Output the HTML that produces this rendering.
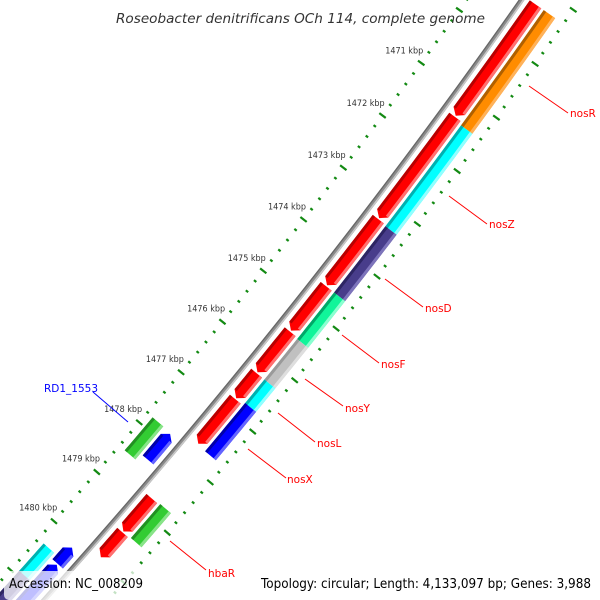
<!DOCTYPE html>
<html><head><meta charset="utf-8"><style>
html,body{margin:0;padding:0;background:#fff;width:600px;height:600px;overflow:hidden;}
svg{display:block;overflow:hidden;font-family:"DejaVu Sans","Liberation Sans",sans-serif;}
</style></head><body>
<svg id="map" width="600" height="600" viewBox="0 0 600 600">
<rect width="600" height="600" fill="#fff"/>
<g id="ticks"></g>
<g id="backbone"></g>
<g id="features"></g>
<g id="ticklabels"></g>
<g font-size="10.5" fill="#ff0000" stroke-width="1">
<line x1="529" y1="86" x2="568" y2="113" stroke="#ff0000"/>
<text x="570" y="117">nosR</text>
<line x1="449" y1="196" x2="487" y2="224" stroke="#ff0000"/>
<text x="489" y="228">nosZ</text>
<line x1="385" y1="279" x2="423" y2="307" stroke="#ff0000"/>
<text x="425" y="312">nosD</text>
<line x1="342" y1="335" x2="379" y2="363" stroke="#ff0000"/>
<text x="381" y="368">nosF</text>
<line x1="305" y1="379" x2="343" y2="406" stroke="#ff0000"/>
<text x="345" y="412">nosY</text>
<line x1="278" y1="413" x2="315" y2="442" stroke="#ff0000"/>
<text x="317" y="447">nosL</text>
<line x1="248" y1="449" x2="286" y2="478" stroke="#ff0000"/>
<text x="287" y="483">nosX</text>
<line x1="170" y1="541" x2="206" y2="570" stroke="#ff0000"/>
<text x="208" y="577">hbaR</text>
<line x1="93" y1="392" x2="128" y2="422" stroke="#0000ff"/>
<text x="44" y="392" fill="#0000ff">RD1_1553</text>
</g>
<text x="116" y="23" font-size="13.5" font-style="italic" fill="#333" textLength="369" lengthAdjust="spacingAndGlyphs">Roseobacter denitrificans OCh 114, complete genome</text>
<rect x="4" y="571" width="144" height="29" rx="5" fill="#fff" fill-opacity="0.75"/>
<text x="9" y="588" font-size="13" fill="#000" textLength="134" lengthAdjust="spacingAndGlyphs">Accession: NC_008209</text>
<rect x="256" y="571" width="342" height="29" rx="5" fill="#fff" fill-opacity="0.75"/>
<text x="261" y="588" font-size="13" fill="#000" textLength="330" lengthAdjust="spacingAndGlyphs">Topology: circular; Length: 4,133,097 bp; Genes: 3,988</text>
</svg>
<script>
// data arrays (kbp positions)
const tickLabels = [1471,1472,1473,1474,1475,1476,1477,1478,1479,1480];
const ring1Starts = [1469.26,1471.36,1473.30,1474.59,1475.47,1476.28,1476.79,1478.76,1479.44];
const ring1Ends   = [1471.34,1473.28,1474.57,1475.45,1476.26,1476.77,1477.67,1479.42,1479.94];
const ring2Starts = [1469.26,1471.41,1473.32,1474.59,1475.49,1476.28,1476.74,1478.74];
const ring2Ends   = [1471.41,1473.32,1474.59,1475.49,1476.28,1476.74,1477.69,1479.42];
const ring2Colors = ['orange','cyan','purple','spring','gray','cyan','blue','green'];
const ringM1Starts = [1477.83,1480.12,1480.47];
const ringM1Ends   = [1478.35,1480.45,1481.6];
const ringM2Starts = [1477.81,1480.36,1480.92];
const ringM2Ends   = [1478.47,1480.92,1482];
const ringM2Colors = ['green','cyan','purple'];

const NS='http://www.w3.org/2000/svg';
const CX=-4695, CY=-3661, R0=6373, TH0=36.05, DEG_PER_KBP=0.591;
function P(k,r){const t=(TH0+DEG_PER_KBP*(k-1471))*Math.PI/180;const R=R0+r;return [CX+R*Math.cos(t),CY+R*Math.sin(t)];}
const PAL={red:['#ff0000','#b80000','#ff7070'],orange:['#ff8c00','#b06000','#ffb25a'],cyan:['#00ffff','#00b0b0','#90ffff'],
purple:['#483d8b','#2d2563','#7d74bb'],spring:['#10f59a','#00a868','#8affd0'],gray:['#c0c0c0','#9a9a9a','#dedede'],
blue:['#0000ff','#0000a8','#6464ff'],green:['#33cc33','#229022','#88e488']};
function poly(parent,pts,fill,name){const p=document.createElementNS(NS,'polygon');
p.setAttribute('points',pts.map(q=>q[0].toFixed(2)+','+q[1].toFixed(2)).join(' '));p.setAttribute('fill',fill);


parent.appendChild(p);return p;}
function arcPts(k1,k2,r){const a=[];for(let i=0;i<=8;i++)a.push(P(k1+(k2-k1)*i/8,r));return a;}
const H=0.09;
function feature(parent,k1,k2,r1,r2,dir,col,name){
  const c=PAL[col];const g=document.createElementNS(NS,'g');
  
  
  parent.appendChild(g);
  const h=Math.min(H,(k2-k1)*0.5);let b1=k1,b2=k2;
  if(dir>0)b2=k2-h; if(dir<0)b1=k1+h;
  let pts=arcPts(b1,b2,r1);
  if(dir>0)pts.push(P(k2,(r1+r2)/2));
  pts=pts.concat(arcPts(b1,b2,r2).reverse());
  if(dir<0)pts.push(P(k1,(r1+r2)/2));
  poly(g,pts,c[0],name+'-body');
  poly(g,arcPts(b1,b2,r1).concat(arcPts(b1,b2,r1+3).reverse()),c[1],name+'-shade');
  poly(g,arcPts(b1,b2,r2-3).concat(arcPts(b1,b2,r2).reverse()),c[2],name+'-highlight');
}
// ticks
const tg=document.getElementById('ticks');
function tick(k,rc,len,name){const a=P(k,rc-len/2),b=P(k,rc+len/2);const l=document.createElementNS(NS,'line');
l.setAttribute('x1',a[0]);l.setAttribute('y1',a[1]);l.setAttribute('x2',b[0]);l.setAttribute('y2',b[1]);
l.setAttribute('stroke','#138a13');l.setAttribute('stroke-width','2.2');


tg.appendChild(l);}
for(let i=0;i<=70;i++){const k=1469+i*0.2;const major=(i%5===0);
  tick(k,-45,major?8:3,major?'inner-major-tick':'inner-minor-tick');
  tick(k,48,major?8:3,major?'outer-major-tick':'outer-minor-tick');}
// backbone
const bb=document.getElementById('backbone');
function arcLine(r,w,col,name){const pts=[];for(let i=0;i<=40;i++)pts.push(P(1468.5+i*0.35,r));
const pl=document.createElementNS(NS,'polyline');pl.setAttribute('points',pts.map(q=>q.join(',')).join(' '));
pl.setAttribute('fill','none');pl.setAttribute('stroke',col);pl.setAttribute('stroke-width',w);


bb.appendChild(pl);}
arcLine(0,5,'#8a8a8a','backbone-line');
arcLine(1.6,1.6,'#c8c8c8','backbone-highlight');
arcLine(-1.8,1.2,'#666','backbone-shade');
// features
const fg=document.getElementById('features');
ring1Starts.forEach((s,i)=>feature(fg,s,ring1Ends[i],7,21,1,'red','forward-gene-'+i));
ring2Starts.forEach((s,i)=>feature(fg,s,ring2Ends[i],24,38,0,ring2Colors[i],'cog-gene-'+i));
ringM1Starts.forEach((s,i)=>feature(fg,s,ringM1Ends[i],-21,-7,-1,'blue','reverse-gene-'+i));
ringM2Starts.forEach((s,i)=>feature(fg,s,ringM2Ends[i],-38,-24,0,ringM2Colors[i],'reverse-cog-gene-'+i));
// tick labels
const lg=document.getElementById('ticklabels');
tickLabels.forEach(k=>{const p=P(k,-66);const t=document.createElementNS(NS,'text');
t.setAttribute('x',p[0]);t.setAttribute('y',p[1]+3);t.setAttribute('text-anchor','middle');
t.setAttribute('font-size','9');t.setAttribute('fill','#333');
t.setAttribute('textLength','38');t.setAttribute('lengthAdjust','spacingAndGlyphs');


t.textContent=k+' kbp';lg.appendChild(t);});
</script>
</body></html>
